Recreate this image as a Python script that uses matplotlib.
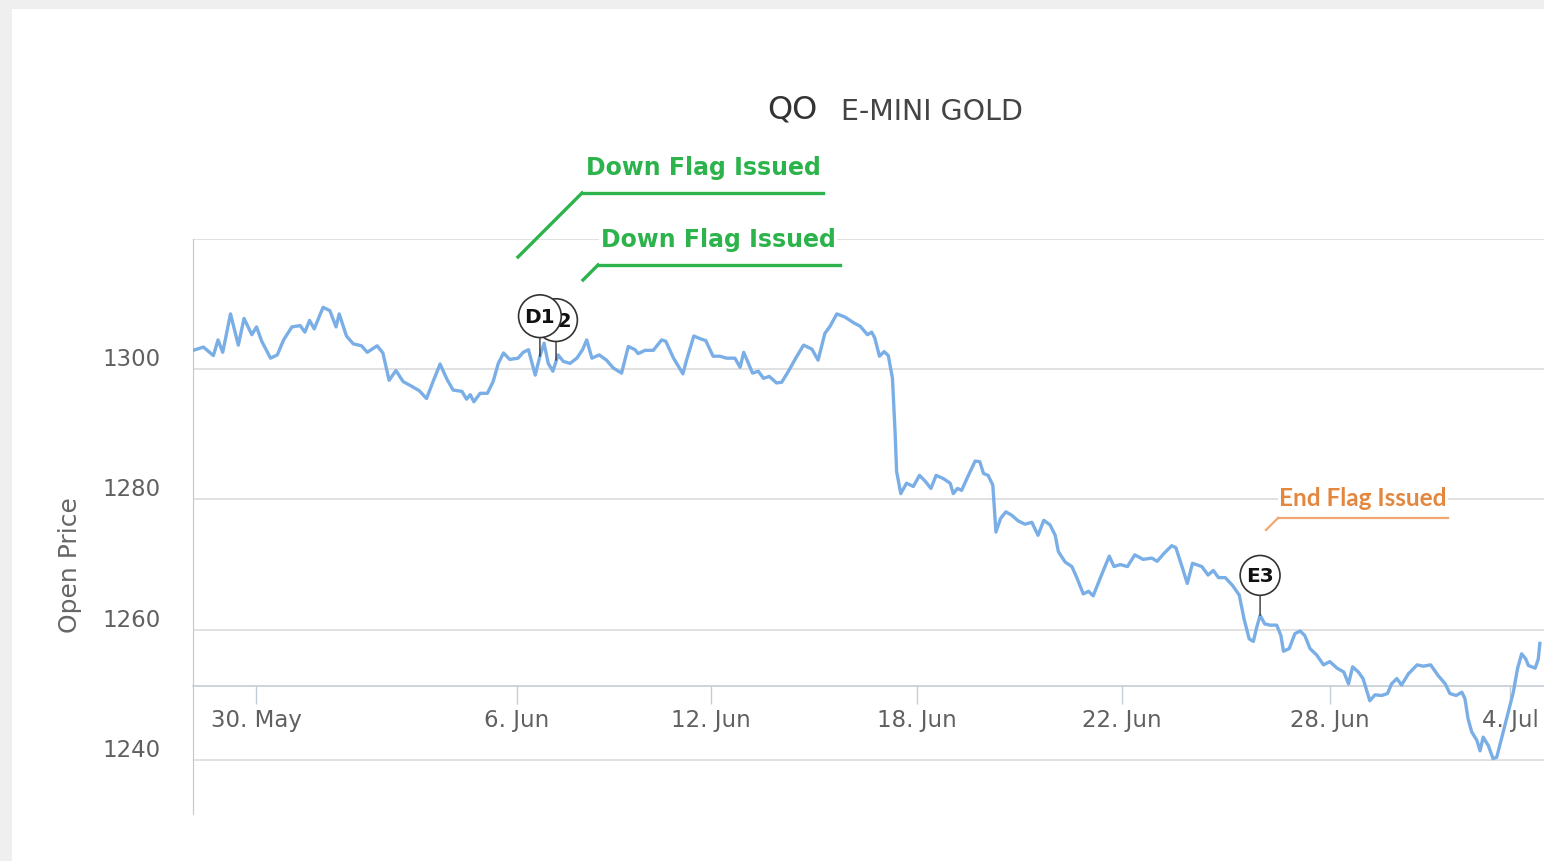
import numpy as np
import matplotlib
matplotlib.use('Agg')
import matplotlib.pyplot as plt
from matplotlib.patches import Rectangle
from matplotlib.lines import Line2D
from matplotlib.transforms import ScaledTranslation

plt.rcParams['font.family'] = ['DejaVu Sans']

# trading-day position (ordinal axis, 0 = 30 May) and open price
day_pos = [-1.21, -1.01, -0.82, -0.73, -0.64, -0.49, -0.34, -0.23, -0.08, 0.01, 0.11, 0.28, 0.41, 0.53, 0.69,
           0.85, 0.94, 1.03, 1.12, 1.29, 1.42, 1.54, 1.60, 1.74, 1.87, 2.03, 2.14, 2.33, 2.44, 2.56, 2.69, 2.83,
           2.99, 3.14,
           3.28, 3.40, 3.54, 3.67, 3.79, 3.96, 4.05, 4.12, 4.19, 4.31, 4.45, 4.56, 4.66, 4.76, 4.88, 5.04, 5.14,
           5.24, 5.37, 5.46, 5.54, 5.62, 5.71, 5.81, 5.91, 6.04, 6.17, 6.28, 6.36, 6.46, 6.60, 6.74, 6.87, 7.03,
           7.16, 7.29,
           7.35, 7.48, 7.64, 7.80, 7.88, 8.03, 8.21, 8.28, 8.42, 8.57, 8.65, 8.79, 8.92, 9.05, 9.21, 9.31, 9.38,
           9.55, 9.66, 9.76, 9.87, 10.01, 10.11, 10.24, 10.38, 10.53, 10.69, 10.81, 10.94, 11.04, 11.17, 11.33,
           11.50, 11.62, 11.76, 11.84, 11.90,
           11.99, 12.08, 12.16, 12.24, 12.29, 12.32, 12.40, 12.51, 12.64, 12.76, 12.87, 12.98, 13.08, 13.22,
           13.35, 13.41, 13.49, 13.57, 13.70, 13.83, 13.92, 13.99, 14.08, 14.17, 14.23, 14.32, 14.42, 14.53,
           14.66, 14.79, 14.92, 15.04, 15.15, 15.27, 15.37,
           15.43, 15.56, 15.69, 15.78, 15.91, 16.01, 16.10, 16.26, 16.41, 16.50, 16.62, 16.76, 16.90, 17.06,
           17.23, 17.33, 17.46, 17.61, 17.69, 17.80, 17.91, 18.01, 18.19, 18.31, 18.41, 18.51, 18.64, 18.78,
           18.91, 19.00, 19.10, 19.18, 19.24, 19.31, 19.40, 19.50, 19.63, 19.71, 19.76, 19.87, 19.98, 20.08,
           20.17, 20.27, 20.40, 20.53, 20.65, 20.79, 20.92, 21.01, 21.09, 21.20, 21.29, 21.42, 21.52, 21.65,
           21.76, 21.84, 21.94, 22.03, 22.16, 22.33, 22.45, 22.59, 22.74, 22.87, 22.96, 23.08, 23.19, 23.25,
           23.31, 23.38, 23.48, 23.54, 23.60, 23.70, 23.79, 23.86, 23.96, 24.08, 24.18, 24.26, 24.34, 24.42,
           24.47, 24.60, 24.66, 24.69]

open_price = [1302.9, 1303.4, 1302.1, 1304.5, 1302.6, 1308.5, 1303.7, 1307.8, 1305.3, 1306.5, 1304.3, 1301.7,
              1302.2, 1304.5, 1306.5, 1306.7, 1305.7, 1307.5, 1306.2, 1309.5, 1309.0, 1306.5, 1308.5, 1305.1,
              1303.9, 1303.6, 1302.6, 1303.6, 1302.5, 1298.3, 1299.8, 1298.1, 1297.4, 1296.7,
              1295.5, 1298.0, 1300.8, 1298.5, 1296.8, 1296.6, 1295.4, 1296.1, 1295.0, 1296.3, 1296.3, 1298.1,
              1300.9, 1302.5, 1301.5, 1301.7, 1302.6, 1303.0, 1299.1, 1302.0, 1304.0, 1300.9, 1299.7, 1302.2,
              1301.2, 1300.9, 1301.7, 1303.0, 1304.5, 1301.7, 1302.2, 1301.4, 1300.2, 1299.4, 1303.5, 1303.0,
              1302.4, 1302.9, 1302.9, 1304.5, 1304.3, 1301.7, 1299.3, 1301.4, 1305.1, 1304.6, 1304.4, 1302.0,
              1302.0, 1301.7, 1301.7, 1300.3, 1302.6, 1299.4, 1299.7, 1298.6, 1298.9, 1297.9, 1298.0, 1299.7,
              1301.7, 1303.7, 1303.1, 1301.4, 1305.5, 1306.6, 1308.5, 1308.0, 1307.1, 1306.6, 1305.3, 1305.7,
              1304.8,
              1302.0, 1302.7, 1302.1, 1298.6, 1290.4, 1284.3, 1280.9, 1282.5, 1282.0, 1283.7, 1282.8, 1281.7,
              1283.7, 1283.2, 1282.5, 1280.9, 1281.7, 1281.4, 1283.7, 1285.9, 1285.8, 1284.0, 1283.7, 1282.2,
              1275.0, 1277.1, 1278.1, 1277.6, 1276.7, 1276.2, 1276.5, 1274.5, 1276.8, 1276.1, 1274.5,
              1272.0, 1270.4, 1269.7, 1268.1, 1265.5, 1265.9, 1265.2, 1268.4, 1271.3, 1269.7, 1270.0, 1269.7,
              1271.5, 1270.8, 1271.0, 1270.5, 1271.7, 1272.9, 1272.6, 1269.9, 1267.1, 1270.2, 1269.7, 1268.4,
              1269.1, 1268.0, 1268.0, 1266.8, 1265.3, 1261.7, 1258.6, 1258.2, 1260.2, 1262.2, 1260.9, 1260.7,
              1260.7, 1259.1, 1256.7, 1257.1, 1259.4, 1259.8,
              1259.1, 1257.1, 1256.1, 1254.6, 1255.1, 1254.1, 1253.5, 1251.7, 1254.3, 1253.5, 1252.5, 1249.1,
              1250.0, 1249.9, 1250.2, 1251.7, 1252.5, 1251.5, 1253.2, 1254.6, 1254.4, 1254.6, 1252.9, 1251.7,
              1250.2, 1249.9, 1250.4, 1249.4, 1246.3, 1244.3, 1243.0, 1241.4, 1243.5, 1242.2, 1240.2, 1240.4,
              1243.5, 1247.3, 1250.4, 1254.0, 1256.3, 1255.5, 1254.5, 1254.1, 1255.5, 1257.9]

# x axis labels (ordinal axis, weekends skipped)
tick_pos = [0, 5.02, 8.75, 12.71, 16.65, 20.65, 24.12]
tick_labels = ['30. May', '6. Jun', '12. Jun', '18. Jun', '22. Jun', '28. Jun', '4. Jul']

y_ticks = [1240, 1260, 1280, 1300, 1320]
y_labels = ['1240', '1260', '1280', '1300', '']

# flags on the series (D2 first so D1 sits on top of it)
flag_pos = [5.77, 5.46, 19.31]
flag_price = [1301.4, 1302.0, 1262.2]
flag_labels = ['D2', 'D1', 'E3']

W, H = 1544, 862
fig = plt.figure(figsize=(W / 100, H / 100), dpi=100)
fig.patch.set_facecolor('#efefef')
fig.add_artist(Rectangle((12 / W, 0), (W - 12) / W, (H - 10) / H, transform=fig.transFigure,
                         facecolor='white', edgecolor='none', zorder=0))


def fp(x, y):
    return x / W, 1 - y / H


ax = fig.add_axes([193 / W, 1 - 815 / H, (W - 193) / W, (815 - 240) / H])
ax.set_facecolor('white')
ax.plot(day_pos, open_price, color='#7aaee6', lw=2.4, zorder=3, solid_joinstyle='round')
ax.set_xlim(-1.2115, 24.77)
ax.set_ylim(1231.7, 1320)

for s in ['top', 'right']:
    ax.spines[s].set_visible(False)
ax.spines['left'].set_color('#c8c8c8')
ax.spines['bottom'].set_position(('data', 1251.4))
ax.spines['bottom'].set_color('#c4ccd6')
ax.spines['bottom'].set_linewidth(1.2)

ax.set_yticks(y_ticks)
ax.set_yticklabels(y_labels)
ax.tick_params(axis='y', length=0, pad=23, labelsize=16.5, labelcolor='#606060')
for lbl in ax.get_yticklabels():
    lbl.set_transform(lbl.get_transform() + ScaledTranslation(0, 0.13, fig.dpi_scale_trans))
ax.yaxis.grid(True, color='#dcdcdc', lw=1.2)

ax.set_xticks(tick_pos)
ax.set_xticklabels(tick_labels)
ax.tick_params(axis='x', direction='out', length=13, width=1, color='#c4ccd6', pad=3,
               labelsize=16.5, labelcolor='#606060')

# flags
for i, (x, y, lab) in enumerate(zip(flag_pos, flag_price, flag_labels)):
    ax.annotate(lab, xy=(x, y), xytext=(0, 40), textcoords='offset pixels',
                ha='center', va='center', fontsize=14.5, fontweight='bold', color='#111111',
                bbox=dict(boxstyle='circle,pad=0.3', fc='white', ec='#333333', lw=1.2),
                arrowprops=dict(arrowstyle='-', color='#333333', lw=1, shrinkA=0, shrinkB=0),
                zorder=5 + i)

fig.text(*fp(70, 565), 'Open Price', rotation=90, ha='center', va='center', fontsize=18, color='#666666')

# title
fig.text(*fp(767, 118), 'QO', ha='left', va='baseline', fontsize=23, color='#333333')
fig.text(*fp(841, 120), 'E-MINI GOLD', ha='left', va='baseline', fontsize=20.5, color='#444444')

# flag callouts
green = '#2db34b'
fig.text(*fp(703, 168), 'Down Flag Issued', ha='center', va='center', fontsize=17, fontweight='bold',
         color=green, zorder=6)
fig.add_artist(Line2D([582 / W, 823 / W], [1 - 194 / H, 1 - 194 / H], color=green, lw=2.4))
fig.add_artist(Line2D([582 / W, 518 / W], [1 - 194 / H, 1 - 258 / H], color=green, lw=2.4))
fig.text(*fp(718, 240), 'Down Flag Issued', ha='center', va='center', fontsize=17, fontweight='bold',
         color=green, zorder=6, bbox=dict(fc='white', ec='none', pad=1))
fig.add_artist(Line2D([598 / W, 840 / W], [1 - 266 / H, 1 - 266 / H], color=green, lw=2.4))
fig.add_artist(Line2D([598 / W, 583 / W], [1 - 266 / H, 1 - 281 / H], color=green, lw=2.4))

orange = '#e4873e'
fig.text(*fp(1363, 498), 'End Flag Issued', ha='center', va='center', fontsize=17.5, fontweight='bold',
         family='Lato', color=orange, zorder=6, bbox=dict(fc='white', ec='none', pad=1))
fig.add_artist(Line2D([1278 / W, 1448 / W], [1 - 519 / H, 1 - 519 / H], color='#f0a870', lw=1.6))
fig.add_artist(Line2D([1278 / W, 1266 / W], [1 - 519 / H, 1 - 531 / H], color='#f0a870', lw=1.6))

fig.savefig('out.png', dpi=100, facecolor=fig.get_facecolor())
